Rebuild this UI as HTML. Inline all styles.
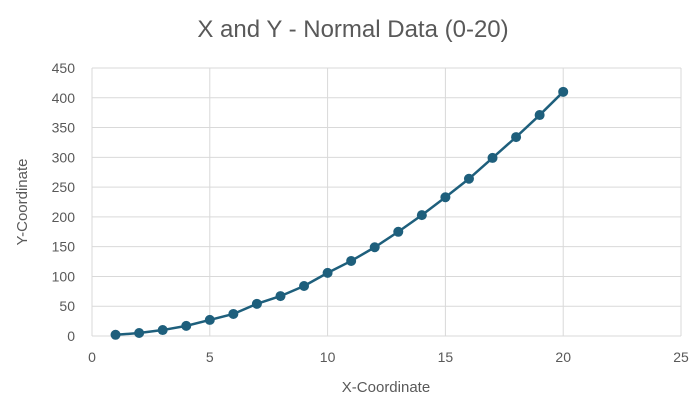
<!DOCTYPE html>
<html><head><meta charset="utf-8"><style>
body{margin:0;background:#fff;font-family:"Liberation Sans",sans-serif}
svg text{font-family:"Liberation Sans",sans-serif;fill:#595959}
</style></head><body>
<svg id="chart" width="700" height="415">
<rect width="700" height="415" fill="#fff"/>
<text x="353" y="37" font-size="24" text-anchor="middle">X and Y - Normal Data (0-20)</text>
<g id="grid"></g><g id="ticks"></g><g id="series"></g>
<text x="386" y="392" font-size="15" text-anchor="middle">X-Coordinate</text>
<text x="27" y="202" font-size="15" text-anchor="middle" transform="rotate(-90 27 202)">Y-Coordinate</text>
</svg>
<script>
const xValues=[1,2,3,4,5,6,7,8,9,10,11,12,13,14,15,16,17,18,19,20];
const yValues=[2,5,10,17,27,37,54,67,84,106,126,149,175,203,233,264,299,334,371,410];
const xTicks=[0,5,10,15,20,25];
const yTicks=[0,50,100,150,200,250,300,350,400,450];
const NS="http://www.w3.org/2000/svg";
const X=v=>92+v*(681-92)/25;
const Y=v=>336-v*(336-68)/450;
function mk(t,a,p){const e=document.createElementNS(NS,t);for(const k in a)e.setAttribute(k,a[k]);p.appendChild(e);return e;}
const grid=document.getElementById('grid'),ticks=document.getElementById('ticks'),ser=document.getElementById('series');
yTicks.forEach(v=>{
 const l=mk('line',{x1:92,x2:681,y1:Y(v),y2:Y(v),stroke:'#d9d9d9','stroke-width':1},grid);
 
 
 const t=mk('text',{x:75,y:Y(v)+5,'font-size':14,'text-anchor':'end'},ticks);t.textContent=v;
 
 
});
xTicks.forEach(v=>{
 const l=mk('line',{x1:X(v),x2:X(v),y1:68,y2:336,stroke:'#d9d9d9','stroke-width':1},grid);
 
 
 const t=mk('text',{x:X(v),y:362,'font-size':14,'text-anchor':'middle'},ticks);t.textContent=v;
 
 
});
const pl=mk('polyline',{points:xValues.map((x,i)=>X(x)+','+Y(yValues[i])).join(' '),fill:'none',stroke:'#1e5f7c','stroke-width':2.5},ser);


xValues.forEach((x,i)=>{
 const c=mk('circle',{cx:X(x),cy:Y(yValues[i]),r:5,fill:'#1e5f7c'},ser);
 
 
});
</script>
</body></html>
